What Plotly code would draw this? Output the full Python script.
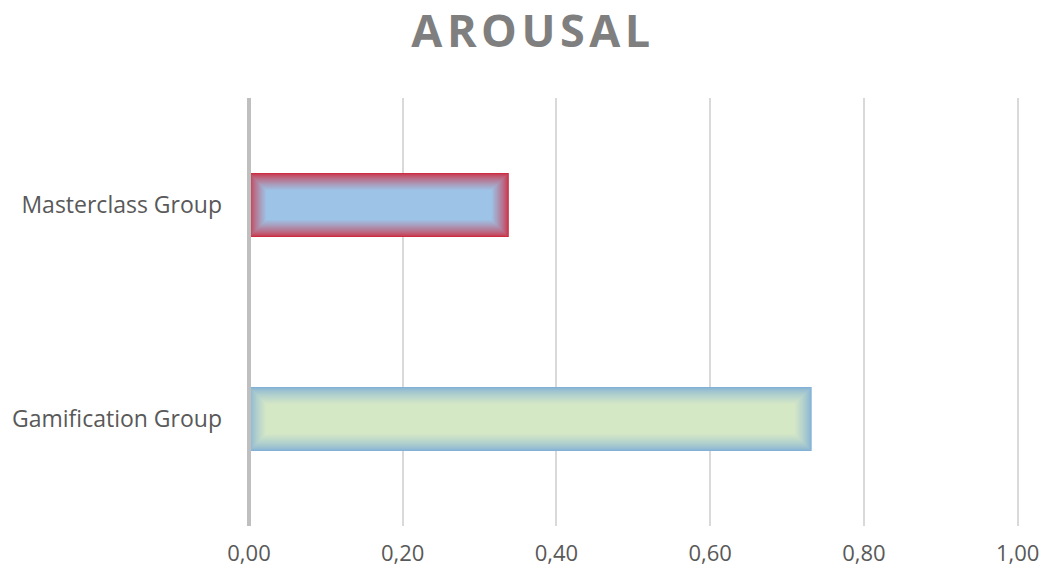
import plotly.graph_objects as go

# Arousal scores per group (bottom to top on the category axis)
groups = ["Gamification Group", "Masterclass Group"]
arousal = [0.732, 0.338]

fill_rgb = [(213, 232, 198), (157, 195, 230)]
edge_rgb = [(130, 176, 214), (205, 45, 65)]

tick_vals = [0, 0.2, 0.4, 0.6, 0.8, 1.0]
tick_text = ["0,00", "0,20", "0,40", "0,60", "0,80", "1,00"]

X_MAX = 1.003
BAR_W = 0.3
PLOT_W_PX = 771
PLOT_H_PX = 428

# size of one screen pixel in data units on each axis
dx = X_MAX / PLOT_W_PX
dy = 2.0 / PLOT_H_PX


def blend(a, b, t):
    return "rgb(%d,%d,%d)" % tuple(round(a[i] + (b[i] - a[i]) * t) for i in range(3))


fig = go.Figure()

# Each bar is painted as nested rectangles that fade from the edge colour
# to the fill colour, giving a soft inner glow along the border.
steps = 17
for k in range(steps + 1):
    t = min(1.0, (k / steps) ** 0.7)
    colors = [blend(edge_rgb[i], fill_rgb[i], t) for i in range(len(groups))]
    fig.add_trace(
        go.Bar(
            x=[v - 2 * k * dx for v in arousal],
            base=[k * dx] * len(arousal),
            y=groups,
            orientation="h",
            width=BAR_W - 2 * k * dy,
            marker=dict(color=colors, line=dict(width=0)),
            hoverinfo="skip" if k else "y",
            showlegend=False,
        )
    )

fig.update_layout(
    width=1049,
    height=574,
    margin=dict(l=249, r=29, t=98, b=48, autoexpand=False),
    paper_bgcolor="white",
    plot_bgcolor="white",
    showlegend=False,
    barmode="overlay",
    font=dict(family="Open Sans", color="#595959", size=23),
    title=dict(
        text="<b>A\u200aR\u200aO\u200aU\u200aS\u200aA\u200aL</b>",
        x=0.506,
        xanchor="center",
        y=0.945,
        yanchor="middle",
        font=dict(family="Open Sans", size=45, color="#7F7F7F"),
    ),
    xaxis=dict(
        range=[0, X_MAX],
        tickvals=tick_vals,
        ticktext=tick_text,
        showgrid=True,
        gridcolor="#D9D9D9",
        gridwidth=2,
        zeroline=False,
        showline=False,
        ticks="",
        ticklabelstandoff=12,
        automargin=False,
        tickfont=dict(size=22, color="#595959"),
        fixedrange=True,
    ),
    yaxis=dict(
        range=[-0.5, 1.5],
        showgrid=False,
        zeroline=False,
        showline=False,
        ticks="",
        ticklabelstandoff=26,
        automargin=False,
        tickfont=dict(size=23, color="#595959"),
        fixedrange=True,
    ),
)

# Category axis line along the left edge of the plot area
fig.add_shape(
    type="line",
    xref="paper", yref="paper",
    x0=0, x1=0, y0=0, y1=1,
    line=dict(color="#BFBFBF", width=4),
    layer="above",
)

fig.write_html("out.html")
